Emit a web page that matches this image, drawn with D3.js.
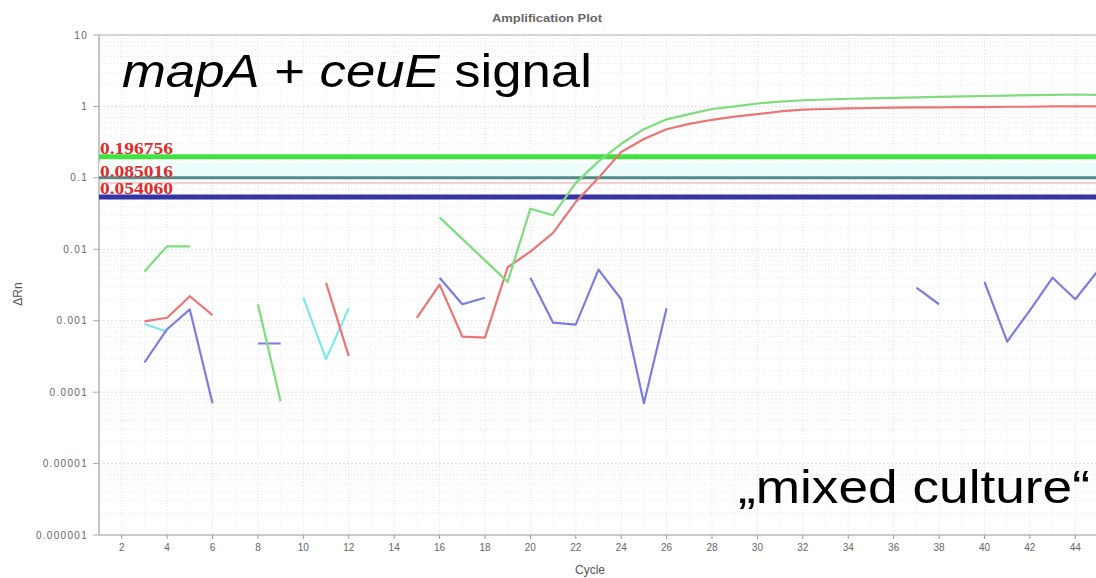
<!DOCTYPE html>
<html>
<head>
<meta charset="utf-8">
<script src="https://cdn.jsdelivr.net/npm/d3@7"></script>
<style>
  html, body { margin: 0; padding: 0; background: #fff; }
  svg { display: block; }
</style>
</head>
<body>
<svg id="chart" width="1096" height="578"></svg>
<script>
// Amplification plot: ΔRn per cycle on a log scale, with threshold lines
const cycles = d3.range(1, 46);

// ΔRn per cycle (null = not drawn, value ≤ 0 on the log axis)
const greenRn = [null, null, 0.0049, 0.011, 0.011, null, null, 0.0017, 0.000074, null,
  null, null, null, null, null, 0.028, 0.014, 0.007, 0.0035, 0.037,
  0.03, 0.085, 0.17, 0.3, 0.48, 0.66, 0.78, 0.92, 1.0, 1.1,
  1.17, 1.22, 1.25, 1.28, 1.3, 1.32, 1.34, 1.36, 1.38, 1.4,
  1.42, 1.44, 1.45, 1.47, 1.45];
const redRn = [null, null, 0.00098, 0.0011, 0.0022, 0.0012, null, null, null, null,
  0.0034, 0.00032, null, null, 0.0011, 0.0032, 0.0006, 0.00058, 0.0056, 0.0093,
  0.017, 0.046, 0.1, 0.23, 0.35, 0.48, 0.57, 0.65, 0.72, 0.78,
  0.85, 0.9, 0.92, 0.94, 0.95, 0.96, 0.97, 0.97, 0.98, 0.98,
  0.99, 0.99, 1.0, 1.0, 1.0];
const blueRn = [null, null, 0.00026, 0.00076, 0.00144, 0.00007, null, 0.00048, 0.00048, null,
  null, null, null, null, null, 0.004, 0.0017, 0.0021, null, 0.004,
  0.00094, 0.00088, 0.0052, 0.002, 0.00007, 0.0015, null, null, null, null,
  null, null, null, null, null, null, 0.0029, 0.0017, null, 0.0035,
  0.00051, 0.0014, 0.004, 0.002, 0.005];
const cyanRn = [null, null, 0.0009, 0.0007, null, null, null, null, null, 0.0021,
  0.00029, 0.0015, null, null, null, null, null, null, null, null,
  null, null, null, null, null, null, null, null, null, null,
  null, null, null, null, null, null, null, null, null, null,
  null, null, null, null, null];

const seriesNames = ["cyan", "blue", "red", "green"];
const seriesValues = [cyanRn, blueRn, redRn, greenRn];
const seriesColors = ["#7ae8ea", "#7c7ce0", "#ec7474", "#7ddc7d"];

// threshold values and their labels (the 0.1 line carries no label)
const thresholdValues = [0.196756, 0.1, 0.085016, 0.054060];
const thresholdLabels = ["0.196756", null, "0.085016", "0.054060"];
const thresholdColors = ["#3fe23f", "#558a8a", "#f2c2c2", "#3434a4"];
const thresholdWidths = [5, 3, 1.5, 5];

const yTickValues = [10, 1, 0.1, 0.01, 0.001, 0.0001, 0.00001, 0.000001];
const yTickLabels = ["10", "1", "0.1", "0.01", "0.001", "0.0001", "0.00001", "0.000001"];
const xTickValues = d3.range(2, 45, 2);

const svg = d3.select("#chart");
const plotLeft = 99, plotRight = 1098, plotTop = 35, plotBottom = 535;

const x = d3.scaleLinear().domain([1, 45]).range([plotLeft, plotRight]);
const y = d3.scaleLog().domain([1e-6, 10]).range([plotBottom, plotTop]);

// grid
const grid = svg.append("g");
const minorY = [];
for (let e = -6; e < 1; e++) for (let m = 2; m <= 9; m++) minorY.push(m * Math.pow(10, e));
grid.append("g").selectAll("line").data(minorY).join("line")
  .attr("x1", plotLeft).attr("x2", 1096)
  .attr("y1", d => y(d)).attr("y2", d => y(d))
  .attr("stroke", "#e8e8e8").attr("stroke-dasharray", "1,2");
grid.append("g").selectAll("line").data(yTickValues.slice(1, -1)).join("line")
  .attr("x1", plotLeft).attr("x2", 1096)
  .attr("y1", d => y(d)).attr("y2", d => y(d))
  .attr("stroke", "#dedede").attr("stroke-dasharray", "2,2");
grid.append("g").selectAll("line").data(cycles.slice(1)).join("line")
  .attr("x1", d => x(d)).attr("x2", d => x(d))
  .attr("y1", plotTop).attr("y2", plotBottom)
  .attr("stroke", d => d % 2 === 0 ? "#e2e2e2" : "#eeeeee")
  .attr("stroke-dasharray", "1,2");

// frame
svg.append("line").attr("x1", plotLeft).attr("x2", 1096).attr("y1", plotTop).attr("y2", plotTop)
  .attr("stroke", "#c8c8c8").attr("stroke-width", 1.5);
svg.append("line").attr("x1", plotLeft).attr("x2", plotLeft).attr("y1", plotTop).attr("y2", plotBottom)
  .attr("stroke", "#b0b0b8").attr("stroke-width", 1.5);
svg.append("line").attr("x1", plotLeft).attr("x2", 1096).attr("y1", plotBottom).attr("y2", plotBottom)
  .attr("stroke", "#b8b8b8").attr("stroke-width", 1.5);

// pale band just above the 0.1 line
svg.append("rect").attr("x", plotLeft).attr("width", 1096 - plotLeft)
  .attr("y", y(thresholdValues[1]) - 15).attr("height", 14)
  .attr("fill", "#effcfc");

// thresholds
const th = svg.append("g");
th.selectAll("line").data(thresholdValues).join("line")
  .attr("x1", plotLeft).attr("x2", 1096)
  .attr("y1", d => y(d)).attr("y2", d => y(d))
  .attr("stroke", (d, i) => thresholdColors[i])
  .attr("stroke-width", (d, i) => thresholdWidths[i]);

// amplification curves
const line = d3.line()
  .defined(d => d.v != null)
  .x(d => x(d.c)).y(d => y(d.v));
svg.append("g").selectAll("path").data(seriesValues).join("path")
  .attr("d", vals => line(vals.map((v, i) => ({ c: cycles[i], v }))))
  .attr("fill", "none")
  .attr("stroke", (d, i) => seriesColors[i])
  .attr("stroke-width", 2.2)
  .attr("stroke-linejoin", "round");

// threshold labels, stacked upward so they never collide
const labelled = thresholdValues
  .map((v, i) => ({ v, label: thresholdLabels[i] }))
  .filter(d => d.label)
  .sort((a, b) => a.v - b.v);
let prevBase = Infinity;
labelled.forEach(d => {
  d.base = Math.min(y(d.v) - 2.5, prevBase - 17);
  prevBase = d.base;
});
th.selectAll("text").data(labelled).join("text")
  .attr("x", plotLeft + 1)
  .attr("y", d => d.base)
  .attr("textLength", 73).attr("lengthAdjust", "spacingAndGlyphs")
  .attr("font-family", "Liberation Serif, serif")
  .attr("font-weight", "bold")
  .attr("font-size", 17)
  .attr("fill", "#e22a2a")
  .text(d => d.label);

// axes ticks and labels
const tickFont = "Liberation Sans, Arial, sans-serif";
svg.append("g").selectAll("line").data(yTickValues).join("line")
  .attr("x1", plotLeft - 6).attr("x2", plotLeft).attr("y1", d => y(d)).attr("y2", d => y(d))
  .attr("stroke", "#aaa");
svg.append("g").selectAll("text").data(yTickValues).join("text")
  .attr("x", 88).attr("y", d => y(d) + 3.5)
  .attr("text-anchor", "end")
  .attr("font-family", tickFont).attr("font-size", 10).attr("letter-spacing", 1.3)
  .attr("fill", "#666")
  .text((d, i) => yTickLabels[i]);

svg.append("g").selectAll("line").data(xTickValues).join("line")
  .attr("x1", d => x(d)).attr("x2", d => x(d)).attr("y1", plotBottom).attr("y2", plotBottom + 4)
  .attr("stroke", "#999");
svg.append("g").selectAll("text").data(xTickValues).join("text")
  .attr("x", d => x(d)).attr("y", 551)
  .attr("text-anchor", "middle")
  .attr("font-family", tickFont).attr("font-size", 10)
  .attr("fill", "#666")
  .text(d => d);

svg.append("text").attr("x", 590).attr("y", 574).attr("text-anchor", "middle")
  .attr("font-family", tickFont).attr("font-size", 12).attr("fill", "#555")
  .text("Cycle");
svg.append("text").attr("transform", "translate(22,294) rotate(-90)")
  .attr("text-anchor", "middle")
  .attr("font-family", tickFont).attr("font-size", 12).attr("fill", "#555")
  .text("ΔRn");
svg.append("text").attr("x", 547).attr("y", 22).attr("text-anchor", "middle")
  .attr("font-family", tickFont).attr("font-size", 10).attr("font-weight", "bold")
  .attr("fill", "#666").attr("textLength", 110).attr("lengthAdjust", "spacingAndGlyphs")
  .text("Amplification Plot");

// headline annotations, stretched to their box width
function banner(parts, x0, baseline, width, size) {
  const g = svg.append("g");
  const t = g.append("text").attr("x", 0).attr("y", 0)
    .attr("font-family", "Liberation Sans, Arial, sans-serif")
    .attr("font-size", size).attr("fill", "#000");
  parts.forEach(p => t.append("tspan").attr("font-style", p.italic ? "italic" : "normal").text(p.text));
  const w = t.node().getComputedTextLength();
  g.attr("transform", `translate(${x0},${baseline}) scale(${width / w},1)`);
}
banner([{ text: "mapA", italic: true }, { text: " + " }, { text: "ceuE", italic: true }, { text: " signal" }],
  122, 87, 470, 46);
banner([{ text: "\u201Emixed culture\u201C" }], 738, 503, 352, 46);
</script>
</body>
</html>
